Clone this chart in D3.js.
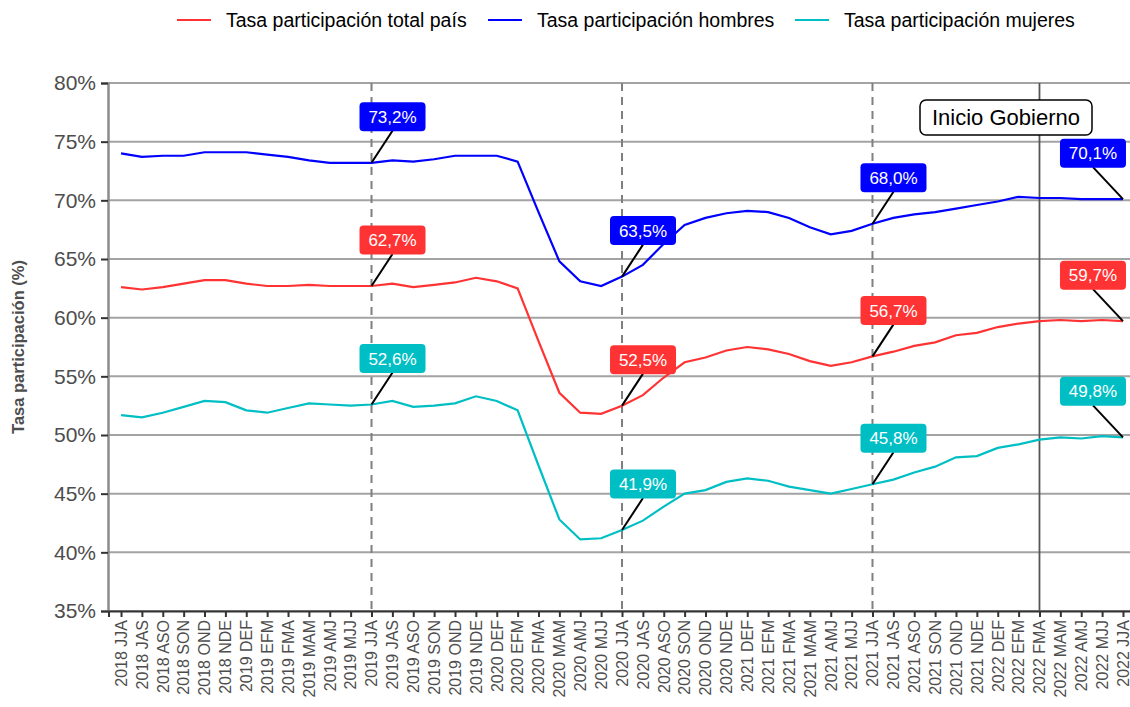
<!DOCTYPE html>
<html>
<head>
<meta charset="utf-8">
<script src="https://cdn.jsdelivr.net/npm/d3@7"></script>
<style>
body{margin:0;background:#fff;}
text{font-family:"Liberation Sans",Arial,sans-serif;}
</style>
</head>
<body>
<div class="canvas"></div>
<script>
//data
const categories = ['2018 JJA','2018 JAS','2018 ASO','2018 SON','2018 OND','2018 NDE',
'2019 DEF','2019 EFM','2019 FMA','2019 MAM','2019 AMJ','2019 MJJ','2019 JJA','2019 JAS','2019 ASO','2019 SON','2019 OND','2019 NDE',
'2020 DEF','2020 EFM','2020 FMA','2020 MAM','2020 AMJ','2020 MJJ','2020 JJA','2020 JAS','2020 ASO','2020 SON','2020 OND','2020 NDE',
'2021 DEF','2021 EFM','2021 FMA','2021 MAM','2021 AMJ','2021 MJJ','2021 JJA','2021 JAS','2021 ASO','2021 SON','2021 OND','2021 NDE',
'2022 DEF','2022 EFM','2022 FMA','2022 MAM','2022 AMJ','2022 MJJ','2022 JJA'];
const total = [62.6,62.4,62.6,62.9,63.2,63.2,62.9,62.7,62.7,62.8,62.7,62.7,62.7,62.9,62.6,62.8,63.0,63.4,63.1,62.5,
58.0,53.6,51.9,51.8,52.5,53.4,54.9,56.2,56.6,57.2,57.5,57.3,56.9,56.3,55.9,56.2,56.7,57.1,57.6,57.9,
58.5,58.7,59.2,59.5,59.7,59.8,59.7,59.8,59.7];
const hombres = [74.0,73.7,73.8,73.8,74.1,74.1,74.1,73.9,73.7,73.4,73.2,73.2,73.2,73.4,73.3,73.5,73.8,73.8,73.8,73.3,
69.0,64.8,63.1,62.7,63.5,64.5,66.3,67.9,68.5,68.9,69.1,69.0,68.5,67.7,67.1,67.4,68.0,68.5,68.8,69.0,
69.3,69.6,69.9,70.3,70.2,70.2,70.1,70.1,70.1];
const mujeres = [51.7,51.5,51.9,52.4,52.9,52.8,52.1,51.9,52.3,52.7,52.6,52.5,52.6,52.9,52.4,52.5,52.7,53.3,52.9,52.1,
47.4,42.8,41.1,41.2,41.9,42.7,43.9,45.0,45.3,46.0,46.3,46.1,45.6,45.3,45.0,45.4,45.8,46.2,46.8,47.3,
48.1,48.2,48.9,49.2,49.6,49.8,49.7,49.9,49.8];
const seriesNames = ['Tasa participación total país','Tasa participación hombres','Tasa participación mujeres'];
const yTicks = [35,40,45,50,55,60,65,70,75,80];
const dashedAt = ['2019 JJA','2020 JJA','2021 JJA'];
const gobiernoAt = '2022 FMA';
const labelAt = ['2019 JJA','2020 JJA','2021 JJA','2022 JJA'];

const colors = ['#FF3333','#0000FF','#00BFC4'];
const series = [total,hombres,mujeres].map((vals,i)=>({name:seriesNames[i],color:colors[i],
    values:vals.map((v,j)=>({cat:categories[j],v:v}))}));

const svg = d3.select('.canvas')
.append('svg')
    .attr('width',1130)
    .attr('height',707);

//scales
const x = d3.scalePoint()
.domain(categories)
.range([108.5,1135.5])
.padding(0.6);
const y = d3.scaleLinear()
.domain([35,80])
.range([611,83]);

const fmt = v => d3.format('.1f')(v).replace('.',',') + '%';

//grid
svg.append('g')
.selectAll('line')
.data(yTicks)
.enter().append('line')
    .attr('x1',108).attr('x2',1130)
    .attr('y1',d=>y(d)).attr('y2',d=>y(d))
    .attr('stroke','#A3A3A3')
    .attr('stroke-width',2);

//axes
const yAxis = d3.axisLeft(y).tickValues(yTicks).tickSize(7).tickPadding(5).tickFormat(d=>d+'%');
const yAxisGroup = svg.append('g').attr('transform','translate(108,0)').call(yAxis);
yAxisGroup.select('.domain').attr('stroke','#8C8C8C').attr('stroke-width',2.5);
yAxisGroup.selectAll('.tick line').attr('stroke','#333').attr('stroke-width',2);
yAxisGroup.selectAll('text')
    .attr('fill','#4D4D4D')
    .style('font-size','21px');

const xAxis = d3.axisBottom(x).tickSize(6).tickPadding(4);
const xAxisGroup = svg.append('g').attr('transform','translate(0,611)').call(xAxis);
xAxisGroup.select('.domain').attr('stroke','#333').attr('stroke-width',2);
xAxisGroup.selectAll('.tick line').attr('stroke','#333').attr('stroke-width',2);
xAxisGroup.selectAll('text')
    .attr('transform','rotate(-90)')
    .attr('text-anchor','end')
    .attr('x',-9)
    .attr('y',0)
    .attr('dy','0.33em')
    .attr('fill','#4D4D4D')
    .style('font-size','16px');

//y title
svg.append('text')
.attr('transform',`translate(24,${(y(35)+y(80))/2}) rotate(-90)`)
.attr('text-anchor','middle')
.attr('fill','#4D4D4D')
.style('font-size','16.5px')
.style('font-weight','bold')
.text('Tasa participación (%)');

//reference lines
svg.append('g')
.selectAll('line')
.data(dashedAt)
.enter().append('line')
    .attr('x1',d=>x(d)).attr('x2',d=>x(d))
    .attr('y1',y(80)).attr('y2',y(35))
    .attr('stroke','#7F7F7F')
    .attr('stroke-width',2)
    .attr('stroke-dasharray','8,6');
svg.append('line')
.attr('x1',x(gobiernoAt)).attr('x2',x(gobiernoAt))
.attr('y1',y(80)).attr('y2',y(35))
.attr('stroke','#555')
.attr('stroke-width',1.8);

//lines
const line = d3.line().x(d=>x(d.cat)).y(d=>y(d.v));
svg.append('g')
.selectAll('path')
.data(series)
.enter().append('path')
    .attr('d',d=>line(d.values))
    .attr('fill','none')
    .attr('stroke',d=>d.color)
    .attr('stroke-width',2.2);

//labels
const labels = [];
series.forEach(s=>{
    s.values.filter(d=>labelAt.includes(d.cat)).forEach(d=>{
        const last = d.cat===categories[categories.length-1];
        labels.push({color:s.color,cat:d.cat,v:d.v,dx:last?-30:21,dy:-46});
    });
});
const lg = svg.append('g')
.selectAll('g')
.data(labels)
.enter().append('g');
lg.append('line')
    .attr('x1',d=>x(d.cat)).attr('y1',d=>y(d.v))
    .attr('x2',d=>x(d.cat)+d.dx).attr('y2',d=>y(d.v)+d.dy+14)
    .attr('stroke','#000')
    .attr('stroke-width',2);
lg.append('rect')
    .attr('x',d=>x(d.cat)+d.dx-33)
    .attr('y',d=>y(d.v)+d.dy-14.5)
    .attr('width',66)
    .attr('height',29)
    .attr('rx',4)
    .attr('fill',d=>d.color);
lg.append('text')
    .attr('x',d=>x(d.cat)+d.dx)
    .attr('y',d=>y(d.v)+d.dy)
    .attr('dy','0.36em')
    .attr('text-anchor','middle')
    .attr('fill','#fff')
    .style('font-size','17px')
    .text(d=>fmt(d.v));

//inicio gobierno
const gx = 1006, gy = 117.5;
svg.append('rect')
.attr('x',gx-86).attr('y',gy-17.5)
.attr('width',172).attr('height',35)
.attr('rx',6)
.attr('fill','#fff')
.attr('stroke','#000')
.attr('stroke-width',1.5);
svg.append('text')
.attr('x',gx).attr('y',gy)
.attr('dy','0.36em')
.attr('text-anchor','middle')
.attr('fill','#000')
.style('font-size','22px')
.text('Inicio Gobierno');

//legend
const legendX = [177,488,795];
const legend = svg.append('g')
.selectAll('g')
.data(series)
.enter().append('g')
    .attr('transform',(d,i)=>`translate(${legendX[i]},20)`);
legend.append('line')
    .attr('x1',0).attr('x2',34)
    .attr('stroke',d=>d.color)
    .attr('stroke-width',2.2);
legend.append('text')
    .attr('x',49)
    .attr('dy','0.35em')
    .attr('fill','#000')
    .style('font-size','19.5px')
    .text(d=>d.name);
</script>
</body>
</html>
